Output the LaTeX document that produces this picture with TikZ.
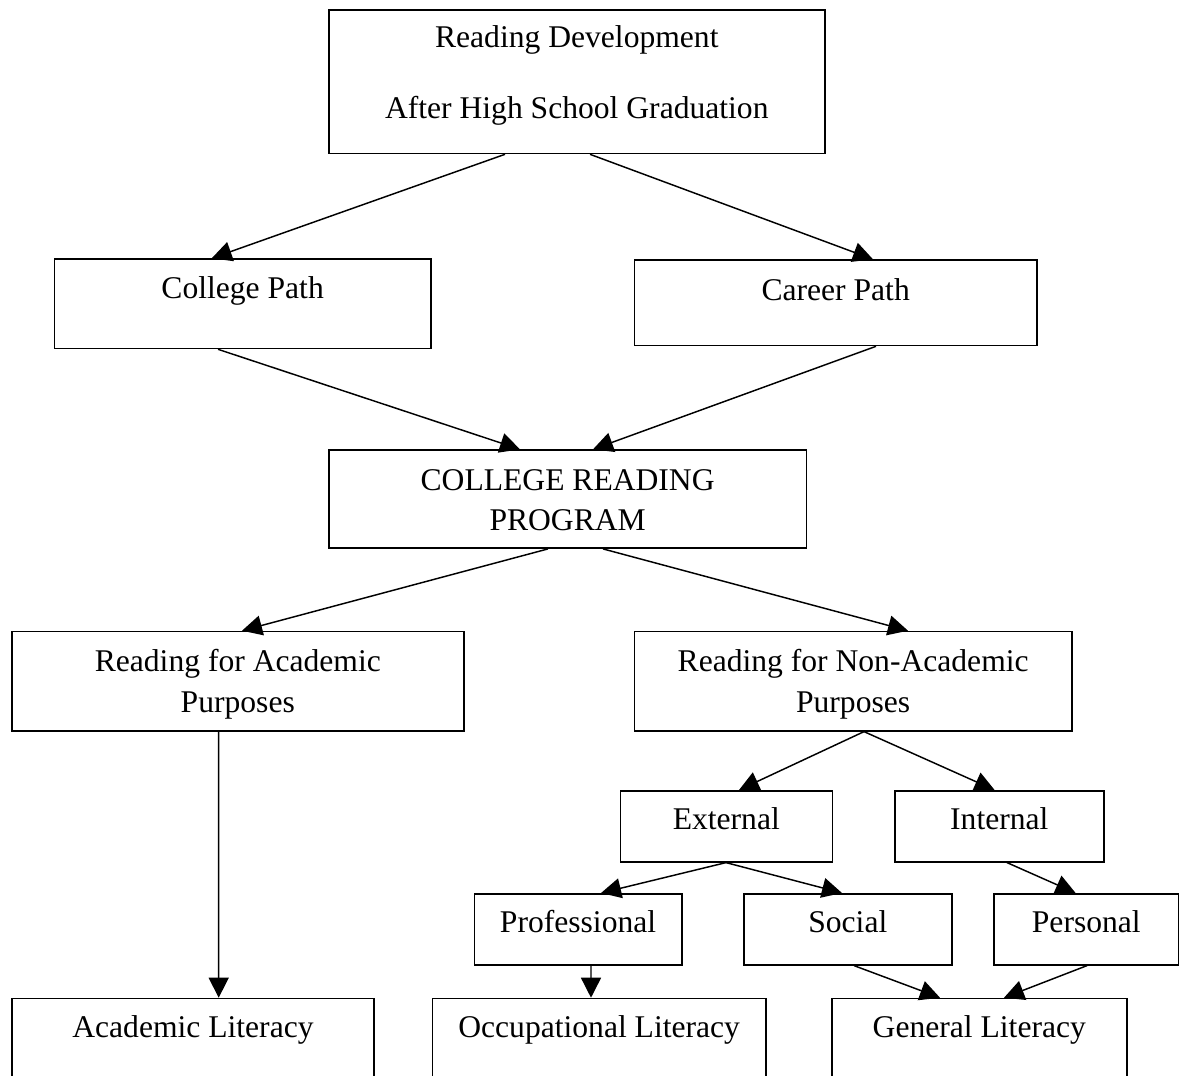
\documentclass[tikz,border=0pt]{standalone}
\usepackage{fontspec}
\setmainfont{Liberation Serif}
\usetikzlibrary{arrows.meta,calc}

\newcommand{\pxu}{0.375pt}

\tikzset{
  stage/.style={draw, line width=0.6pt, inner sep=0pt, anchor=north west,
    align=flush center, font=\fontsize{11.85}{15.3}\selectfont},
  dims/.style args={#1/#2/#3}{text width=#1*\pxu, text height=#2*\pxu, text depth=#3*\pxu},
  flow/.style={-{Triangle[length=7.5pt,width=7.5pt]}, line width=0.55pt},
}

\begin{document}
\begin{tikzpicture}[x=0.375pt,y=0.375pt,yscale=-1,xscale=1]
\useasboundingbox (0,0) rectangle (1179,1075);
\clip (0,0) rectangle (1179,1075);

%Boxes
\node[stage, dims=496/37.4/106] (dev) at (328,9.3) {Reading Development\\[11.5pt]After High School Graduation};
\node[stage, dims=376.3/39/50.4] (college) at (53.7,258.3) {College Path};
\node[stage, dims=402.3/40/45.4] (career) at (633.7,259.3) {Career Path};
\node[stage, dims=477.7/40/58] (crp) at (328,449.3) {COLLEGE READING\\PROGRAM};
\node[stage, dims=452/40/59.3] (acad) at (11,630.7) {Reading for Academic\\Purposes};
\node[stage, dims=437.3/40/59.3] (nonacad) at (633.7,630.7) {Reading for Non-Academic\\Purposes};
\node[stage, dims=212/39/32] (ext) at (619.5,790) {External};
\node[stage, dims=209/39/32] (int) at (894,790) {Internal};
\node[stage, dims=207.5/39/32] (prof) at (473.5,893) {Professional};
\node[stage, dims=208/39/32] (soc) at (743,893) {Social};
\node[stage, dims=185/39/32] (pers) at (993,893) {Personal};
\node[stage, dims=361.7/39/70] (acadlit) at (11.3,997.7) {Academic Literacy};
\node[stage, dims=333.3/39/70] (occlit) at (431.7,997.7) {Occupational Literacy};
\node[stage, dims=295/39/70] (genlit) at (831,997.7) {General Literacy};

%Arrows
\draw[flow] ($(dev.south west)+(177,0)$) -- ($(college.north west)+(158,0)$);
\draw[flow] ($(dev.south west)+(262,0)$) -- ($(career.north west)+(239.3,0)$);
\draw[flow] ($(college.south west)+(164.3,0)$) -- ($(crp.north west)+(192,0)$);
\draw[flow] ($(career.south west)+(242.3,0)$) -- ($(crp.north west)+(265,0)$);
\draw[flow] ($(crp.south west)+(220,0)$) -- ($(acad.north west)+(231,0)$);
\draw[flow] ($(crp.south west)+(275,0)$) -- ($(nonacad.north west)+(274.3,0)$);
\draw[flow] ($(acad.south west)+(207.7,0)$) -- ($(acadlit.north west)+(207.4,0)$);
\draw[flow] ($(nonacad.south west)+(230.3,0)$) -- ($(ext.north west)+(119.5,0)$);
\draw[flow] ($(nonacad.south west)+(230.3,0)$) -- ($(int.north west)+(100.6,0)$);
\draw[flow] ($(ext.south west)+(106.5,0)$) -- ($(prof.north west)+(127.5,0)$);
\draw[flow] ($(ext.south west)+(106.5,0)$) -- ($(soc.north west)+(99,0)$);
\draw[flow] ($(int.south west)+(113,0)$) -- ($(pers.north west)+(82.6,0)$);
\draw[flow] ($(prof.south west)+(117.5,0)$) -- ($(occlit.north west)+(159.3,0)$);
\draw[flow] ($(soc.south west)+(111,0)$) -- ($(genlit.north west)+(109,0)$);
\draw[flow] ($(pers.south west)+(94,0)$) -- ($(genlit.north west)+(173,0)$);
\end{tikzpicture}
\end{document}
